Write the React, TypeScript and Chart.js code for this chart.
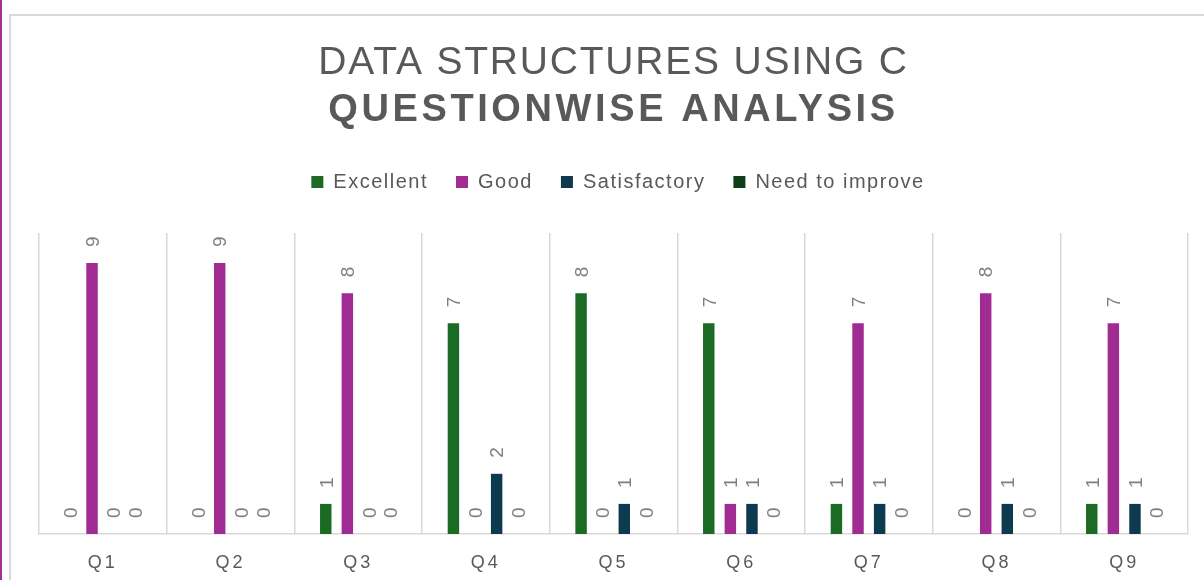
import React, { useEffect, useRef } from "react";
import { Chart, registerables } from "chart.js";

Chart.register(...registerables);

const TITLE = "DATA STRUCTURES USING C";
const SUBTITLE = "QUESTIONWISE ANALYSIS";
const categories = ["Q1", "Q2", "Q3", "Q4", "Q5", "Q6", "Q7", "Q8", "Q9"];
const seriesNames = ["Excellent", "Good", "Satisfactory", "Need to improve"];
const excellent = [0, 0, 1, 7, 8, 7, 1, 0, 1];
const good = [9, 9, 8, 0, 0, 1, 7, 8, 7];
const satisfactory = [0, 0, 0, 2, 1, 1, 1, 1, 1];
const needToImprove = [0, 0, 0, 0, 0, 0, 0, 0, 0];
const seriesColors = ["#1B6B24", "#A02B93", "#0E3A4F", "#0E3F16"];

const FONT = "'Liberation Sans', Arial, sans-serif";
const TEXT = "#595959";

const framePlugin = {
  id: "frame",
  beforeDraw(chart: any) {
    const ctx = chart.ctx;
    ctx.save();
    ctx.fillStyle = "#ffffff";
    ctx.fillRect(0, 0, chart.width, chart.height);
    ctx.fillStyle = "#A1309B";
    ctx.fillRect(0, 0, 2, chart.height);
    ctx.strokeStyle = "#d9d9d9";
    ctx.lineWidth = 2;
    ctx.strokeRect(10, 15, chart.width + 50, chart.height + 50);
    ctx.restore();
  },
};

const spacingPlugin = {
  id: "spacing",
  afterInit(chart: any) {
    const lg = chart.legend;
    if (lg && !lg.__patched) {
      const f = lg.fit.bind(lg);
      lg.fit = () => {
        f();
        lg.height += 31;
      };
      lg.__patched = true;
    }
  },
  beforeLayout(chart: any) {
    chart.ctx.letterSpacing = "1.5px";
  },
  afterLayout(chart: any) {
    const lg = chart.legend;
    if (lg) {
      lg.left += 4.5;
      lg.right += 4.5;
    }
  },
  beforeDraw(chart: any) {
    const ctx = chart.ctx;
    ctx.letterSpacing = "1.5px";
    const wrap = (obj: any, name: string, sp: string) => {
      if (!obj || obj["__w_" + name]) return;
      const orig = obj[name].bind(obj);
      obj[name] = (...args: any[]) => {
        const prev = ctx.letterSpacing;
        ctx.letterSpacing = sp;
        orig(...args);
        ctx.letterSpacing = prev;
      };
      obj["__w_" + name] = true;
    };
    wrap(chart.titleBlock, "draw", "1.8px");
    const sub = (chart.boxes || []).find(
      (b: any) => b !== chart.titleBlock && b.options && b.options.text === SUBTITLE
    );
    wrap(sub, "draw", "3.6px");
    wrap(chart.scales.x, "drawLabels", "3px");
  },
};

const labelPlugin = {
  id: "barLabels",
  afterDatasetsDraw(chart: any) {
    const ctx = chart.ctx;
    const size = 19;
    chart.data.datasets.forEach((ds: any, i: number) => {
      const meta = chart.getDatasetMeta(i);
      if (meta.hidden) return;
      meta.data.forEach((el: any, j: number) => {
        ctx.save();
        ctx.translate(el.x, el.y - 16);
        ctx.rotate(-Math.PI / 2);
        ctx.letterSpacing = "0px";
        ctx.font = `${size}px ${FONT}`;
        ctx.fillStyle = "#7f7f7f";
        ctx.textAlign = "left";
        ctx.textBaseline = "alphabetic";
        ctx.fillText(String(ds.data[j]), 0, 0.358 * size);
        ctx.restore();
      });
    });
  },
};

export default function App() {
  const ref = useRef<HTMLCanvasElement>(null);
  useEffect(() => {
    if (!ref.current) return;
    const values = [excellent, good, satisfactory, needToImprove];
    const chart = new Chart(ref.current, {
      type: "bar",
      data: {
        labels: categories,
        datasets: seriesNames.map((name, i) => ({
          label: name,
          data: values[i],
          backgroundColor: seriesColors[i],
          borderColor: seriesColors[i],
          borderWidth: 0,
          categoryPercentage: 0.677,
          barPercentage: 0.53,
        })),
      },
      options: {
        animation: false,
        responsive: false,
        events: [],
        layout: { padding: { top: 15, left: 39, right: 16, bottom: 6 } },
        plugins: {
          tooltip: { enabled: false },
          title: {
            display: true,
            text: TITLE,
            color: TEXT,
            font: { family: FONT, size: 39, weight: "normal", lineHeight: 1.2 },
            padding: { top: 25, bottom: 0 },
          },
          subtitle: {
            display: true,
            text: SUBTITLE,
            color: TEXT,
            font: { family: FONT, size: 38, weight: "bold", lineHeight: 1.2 },
            padding: { top: 1, bottom: 10.6 },
          },
          legend: {
            display: true,
            position: "top",
            labels: {
              color: TEXT,
              font: { family: FONT, size: 20 },
              boxWidth: 12,
              boxHeight: 12,
              padding: 28,
            },
          },
        },
        scales: {
          x: {
            grid: { offset: true, color: "#d9d9d9", lineWidth: 1.5, drawTicks: false },
            border: { color: "#d9d9d9", width: 1.5 },
            ticks: { color: TEXT, font: { family: FONT, size: 18 }, padding: 18 },
            afterFit: (scale: any) => {
              scale.height = 40;
            },
          },
          y: { display: false, min: 0, max: 10 },
        },
      },
      plugins: [framePlugin, spacingPlugin, labelPlugin],
    } as any);
    return () => chart.destroy();
  }, []);
  return (
    <div style={{ position: "absolute", left: 0, top: 0, width: 1204, height: 580, background: "#fff" }}>
      <canvas ref={ref} width={1204} height={580} style={{ display: "block" }} />
    </div>
  );
}
